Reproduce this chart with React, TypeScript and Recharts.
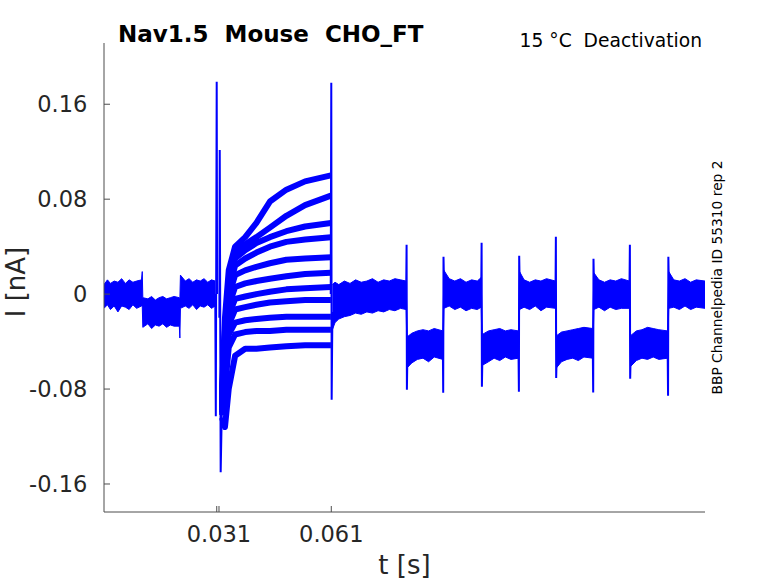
import { Area, ComposedChart, Line, XAxis, YAxis } from 'recharts';

// time in ms, current in nA
const xTicks = [30.4, 31, 61];
const xTickLabels = ['', '0.031', '0.061'];
const yTicks = [-0.16, -0.08, 0, 0.08, 0.16];
const yTickLabels = ['-0.16', '-0.08', '0', '0.08', '0.16'];

// noise band before the test pulse: [t, lo, hi]
const preBand: number[][] = [
  [0.28, -0.012, 0.008], [1.2, -0.009, 0.012], [2.0, -0.013, 0.009], [3.0, -0.01, 0.011],
  [4.0, -0.015, 0.01], [5.0, -0.01, 0.013], [6.0, -0.011, 0.009], [7.0, -0.013, 0.012],
  [8.0, -0.009, 0.01], [9.0, -0.012, 0.011], [10.3, -0.01, 0.012], [10.5, -0.01, 0.019],
  [10.65, -0.028, -0.003], [12.0, -0.025, -0.004], [13.0, -0.029, -0.002], [14.0, -0.026, -0.005],
  [15.0, -0.027, -0.003], [16.0, -0.025, -0.002], [17.0, -0.028, -0.004], [18.0, -0.026, -0.003],
  [19.0, -0.027, -0.002], [20.4, -0.027, -0.003], [20.55, -0.037, -0.004], [20.7, -0.012, 0.016],
  [22.0, -0.01, 0.011], [23.0, -0.012, 0.013], [24.0, -0.009, 0.01], [25.0, -0.013, 0.012],
  [26.0, -0.01, 0.011], [27.0, -0.011, 0.013], [28.0, -0.009, 0.01], [29.0, -0.012, 0.012],
  [30.0, -0.01, 0.011],
];

// noise band after the test pulse, through the step train
const postBand: number[][] = [
  [61.3, -0.03, 0.008], [62.0, -0.024, 0.01], [63.0, -0.021, 0.008], [64.5, -0.019, 0.011],
  [66.0, -0.018, 0.009], [67.5, -0.016, 0.012], [69.0, -0.017, 0.01], [70.5, -0.015, 0.011],
  [72.0, -0.016, 0.013], [73.5, -0.014, 0.01], [75.0, -0.015, 0.012], [76.5, -0.013, 0.011],
  [78.0, -0.014, 0.013], [79.5, -0.012, 0.012], [81.0, -0.013, 0.011],
  [81.3, -0.062, -0.036], [82.5, -0.058, -0.033], [84.0, -0.055, -0.031], [85.5, -0.054, -0.03],
  [87.0, -0.057, -0.031], [88.5, -0.053, -0.029], [90.8, -0.055, -0.031],
  [91.1, -0.012, 0.02], [92.5, -0.01, 0.013], [94.0, -0.013, 0.011], [95.5, -0.011, 0.013],
  [97.0, -0.014, 0.01], [98.5, -0.012, 0.012], [100.0, -0.013, 0.011], [101.05, -0.011, 0.014],
  [101.35, -0.06, -0.034], [103.0, -0.057, -0.031], [104.5, -0.054, -0.03], [106.0, -0.056, -0.029],
  [107.5, -0.053, -0.031], [109.0, -0.055, -0.03], [111.0, -0.054, -0.031],
  [111.3, -0.013, 0.019], [112.5, -0.011, 0.012], [114.0, -0.013, 0.01], [115.5, -0.01, 0.012],
  [117.0, -0.014, 0.011], [118.5, -0.011, 0.013], [120.9, -0.012, 0.011],
  [121.2, -0.062, -0.035], [122.5, -0.057, -0.032], [124.0, -0.055, -0.031], [125.5, -0.054, -0.03],
  [127.0, -0.056, -0.029], [128.5, -0.053, -0.028], [130.85, -0.054, -0.029],
  [131.15, -0.013, 0.018], [132.5, -0.011, 0.012], [134.0, -0.014, 0.01], [135.5, -0.011, 0.012],
  [137.0, -0.013, 0.011], [138.5, -0.012, 0.013], [140.65, -0.012, 0.011],
  [140.95, -0.061, -0.035], [142.5, -0.056, -0.031], [144.0, -0.054, -0.03], [145.5, -0.055, -0.028],
  [147.0, -0.053, -0.029], [148.5, -0.055, -0.03], [150.85, -0.054, -0.031],
  [151.15, -0.012, 0.019], [152.5, -0.011, 0.012], [154.0, -0.013, 0.011], [155.5, -0.01, 0.013],
  [157.0, -0.013, 0.01], [158.5, -0.011, 0.012], [160.84, -0.012, 0.011],
];

// capacitive spikes: [t, I]
const spikeOn: number[][] = [[30.0, 0.0], [30.15, -0.103], [30.39, 0.179], [30.5, 0.0]];
const spikeTest: number[][] = [[31.1, -0.02], [31.2, 0.1215], [31.45, -0.15], [31.8, -0.09]];
const spikeOff: number[][] = [[60.85, 0.0], [61.0, 0.178], [61.1, -0.089], [61.3, -0.015]];
const stepSpikes: number[][][] = [
  [[81.0, 0.0], [81.12, 0.0415], [81.2, -0.0806], [81.35, -0.048]],
  [[90.8, -0.043], [90.9, -0.0831], [90.98, 0.0314], [91.15, 0.004]],
  [[101.05, 0.0], [101.16, 0.0432], [101.24, -0.078], [101.4, -0.048]],
  [[111.0, -0.043], [111.12, -0.0823], [111.2, 0.0323], [111.35, 0.004]],
  [[120.9, 0.0], [121.0, 0.0483], [121.08, -0.0706], [121.25, -0.048]],
  [[130.85, -0.043], [130.97, -0.083], [131.05, 0.0298], [131.2, 0.004]],
  [[140.65, 0.0], [140.77, 0.0415], [140.85, -0.0713], [141.0, -0.048]],
  [[150.85, -0.043], [150.97, -0.0856], [151.05, 0.0314], [151.2, 0.004]],
];

// test-pulse current traces
const testTimes = [31.8, 32.6, 33.6, 35.3, 38, 41, 44.6, 49, 54, 60.9];
const testTraces: number[][] = [
  [-0.08, -0.02, 0.02, 0.04, 0.048, 0.06, 0.078, 0.088, 0.095, 0.1],
  [-0.085, -0.03, 0.012, 0.034, 0.042, 0.048, 0.056, 0.066, 0.075, 0.083],
  [-0.088, -0.035, 0.008, 0.03, 0.037, 0.043, 0.048, 0.053, 0.057, 0.06],
  [-0.09, -0.04, 0.004, 0.024, 0.03, 0.035, 0.04, 0.044, 0.046, 0.048],
  [-0.092, -0.045, -0.002, 0.016, 0.02, 0.023, 0.026, 0.029, 0.03, 0.031],
  [-0.094, -0.05, -0.01, 0.006, 0.009, 0.011, 0.013, 0.015, 0.017, 0.018],
  [-0.096, -0.055, -0.018, -0.004, -0.002, 0.0, 0.002, 0.004, 0.005, 0.006],
  [-0.098, -0.06, -0.026, -0.013, -0.011, -0.009, -0.007, -0.006, -0.005, -0.005],
  [-0.1, -0.066, -0.034, -0.024, -0.022, -0.021, -0.02, -0.019, -0.019, -0.019],
  [-0.102, -0.08, -0.045, -0.034, -0.032, -0.031, -0.031, -0.03, -0.03, -0.03],
  [-0.104, -0.112, -0.08, -0.052, -0.046, -0.046, -0.045, -0.044, -0.043, -0.043],
];

const BLUE = '#0000ff';
const FONT = 'DejaVu Sans, sans-serif';

const toBand = (rows: number[][]) => rows.map(([t, lo, hi]) => ({ t, r: [lo, hi] }));
const toPts = (rows: number[][]) => rows.map(([t, v]) => ({ t, v }));

const tickStyle = { fontFamily: FONT, fontSize: 22.5, fill: '#262626' };

export default function App() {
  return (
    <div style={{ position: 'absolute', left: 0, top: 0, width: 778, height: 583, background: '#fff' }}>
      <ComposedChart width={778} height={583} margin={{ top: 43, right: 73, bottom: 0, left: 0 }}>
        <XAxis
          type="number"
          dataKey="t"
          domain={[0.28, 160.84]}
          allowDataOverflow
          ticks={xTicks}
          tickFormatter={(v) => xTickLabels[xTicks.indexOf(v)] ?? ''}
          height={71}
          tickSize={-6}
          tickMargin={20.5}
          stroke="#4d4d4d"
          tick={tickStyle}
          interval={0}
        />
        <YAxis
          type="number"
          domain={[-0.1836, 0.2116]}
          allowDataOverflow
          ticks={yTicks}
          tickFormatter={(v) => yTickLabels[yTicks.indexOf(v)] ?? ''}
          width={104}
          tickSize={-6}
          tickMargin={22.7}
          stroke="#4d4d4d"
          tick={tickStyle}
          interval={0}
        />
        <Area data={toBand(preBand)} dataKey="r" type="linear" stroke={BLUE} strokeWidth={1} fill={BLUE} fillOpacity={1} dot={false} activeDot={false} isAnimationActive={false} />
        <Area data={toBand(postBand)} dataKey="r" type="linear" stroke={BLUE} strokeWidth={1} fill={BLUE} fillOpacity={1} dot={false} activeDot={false} isAnimationActive={false} />
        {testTraces.map((vals, i) => (
          <Line
            key={'tr' + i}
            data={testTimes.map((t, j) => ({ t, v: vals[j] }))}
            dataKey="v"
            type="linear"
            stroke={BLUE}
            strokeWidth={6}
            strokeLinejoin="round"
            dot={false}
            activeDot={false}
            isAnimationActive={false}
          />
        ))}
        {[spikeOn, spikeTest, spikeOff, ...stepSpikes].map((rows, i) => (
          <Line
            key={'sp' + i}
            data={toPts(rows)}
            dataKey="v"
            type="linear"
            stroke={BLUE}
            strokeWidth={2}
            dot={false}
            activeDot={false}
            isAnimationActive={false}
          />
        ))}
      </ComposedChart>
      <svg width={778} height={583} style={{ position: 'absolute', left: 0, top: 0, pointerEvents: 'none' }}>
        <text x={118} y={41.7} fontFamily={FONT} fontWeight="bold" fontSize={23} fill="#000" style={{ whiteSpace: 'pre' }}>
          {'Nav1.5  Mouse  CHO_FT'}
        </text>
        <text x={702} y={47.3} textAnchor="end" fontFamily={FONT} fontSize={18.7} fill="#000" style={{ whiteSpace: 'pre' }}>
          {'15 °C  Deactivation'}
        </text>
        <text x={404.5} y={574} textAnchor="middle" fontFamily={FONT} fontSize={26} fill="#262626">
          t [s]
        </text>
        <text x={24.5} y={282} textAnchor="middle" fontFamily={FONT} fontSize={26} fill="#262626" transform="rotate(-90 24.5 282)">
          I [nA]
        </text>
        <text x={722} y={277.5} textAnchor="middle" fontFamily={FONT} fontSize={13.8} fill="#000" transform="rotate(-90 722 277.5)">
          BBP Channelpedia ID 55310 rep 2
        </text>
      </svg>
    </div>
  );
}
